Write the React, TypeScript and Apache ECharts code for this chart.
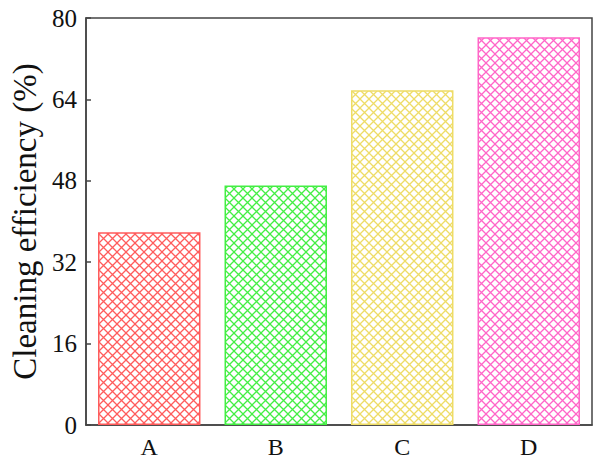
import React, { useEffect, useRef } from "react";
import * as echarts from "echarts";

const categories = ["A", "B", "C", "D"];
const values = [37.9, 47.1, 65.8, 76.2];
const barColors = ["#ff5c5c", "#44ee44", "#eedc66", "#ff66c8"];
const yMin = 0;
const yMax = 80;
const yInterval = 16;

function makeHatch(color: string) {
  const s = 9;
  const c = document.createElement("canvas");
  c.width = s;
  c.height = s;
  const ctx = c.getContext("2d")!;
  ctx.strokeStyle = color;
  ctx.lineWidth = 1.3;
  ctx.beginPath();
  ctx.moveTo(0, 0);
  ctx.lineTo(s, s);
  ctx.moveTo(s, 0);
  ctx.lineTo(0, s);
  ctx.stroke();
  return { image: c.toDataURL(), repeat: "repeat", imageWidth: s, imageHeight: s };
}

export default function App() {
  const ref = useRef<HTMLDivElement>(null);
  useEffect(() => {
    if (!ref.current) return;
    const chart = echarts.init(ref.current, null, { renderer: "svg" });
    const font = "'Liberation Serif', 'Times New Roman', serif";
    chart.setOption({
      animation: false,
      backgroundColor: "#ffffff",
      grid: {
        left: 86,
        right: 14,
        top: 18,
        bottom: 42,
        show: true,
        borderColor: "#444",
        borderWidth: 1.5,
        backgroundColor: "transparent",
      },
      xAxis: {
        type: "category",
        data: categories,
        axisLine: { show: true, lineStyle: { color: "#444", width: 1.5 } },
        axisTick: { show: false },
        axisLabel: { color: "#111", fontFamily: font, fontSize: 24, margin: 10 },
      },
      yAxis: {
        type: "value",
        min: yMin,
        max: yMax,
        interval: yInterval,
        name: "Cleaning efficiency (%)",
        nameLocation: "middle",
        nameGap: 45,
        nameTextStyle: { color: "#111", fontFamily: font, fontSize: 33 },
        axisLine: { show: true, lineStyle: { color: "#444", width: 1.5 } },
        axisTick: { show: true, inside: true, length: 5, lineStyle: { color: "#444", width: 1.5 } },
        splitLine: { show: false },
        axisLabel: { color: "#111", fontFamily: font, fontSize: 25, margin: 9 },
      },
      series: [
        {
          type: "bar",
          barCategoryGap: "19%",
          data: values.map((v, i) => ({
            value: v,
            itemStyle: {
              color: makeHatch(barColors[i]),
              borderColor: barColors[i],
              borderWidth: 1.5,
            },
          })),
        },
      ],
    });
    return () => chart.dispose();
  }, []);
  return (
    <div
      ref={ref}
      style={{ position: "fixed", left: 0, top: 0, width: 606, height: 467 }}
    />
  );
}
